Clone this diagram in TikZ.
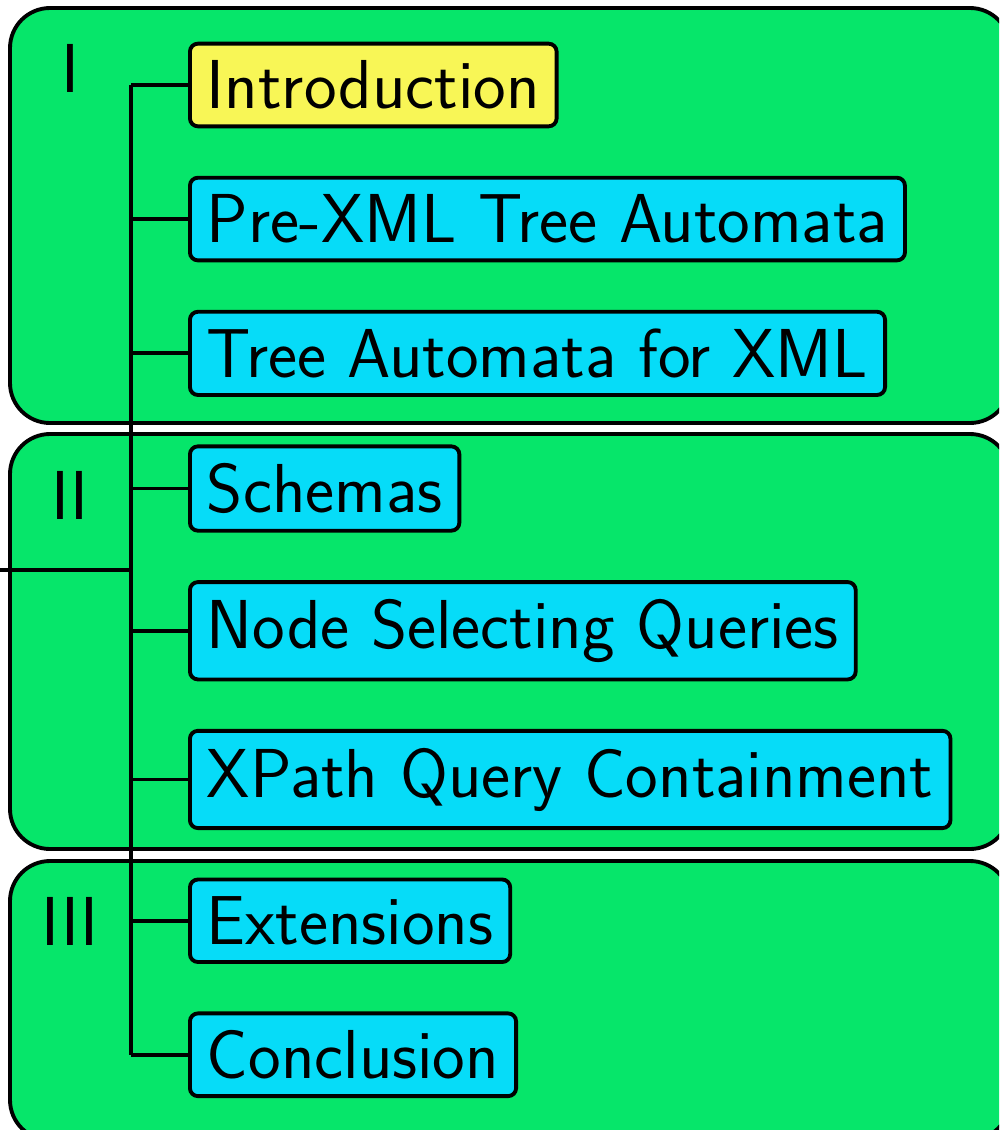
\documentclass[tikz,border=0pt]{standalone}
\usetikzlibrary{positioning}

\definecolor{partgreen}{RGB}{6,230,106}
\definecolor{chaptercyan}{RGB}{6,220,248}
\definecolor{currentyellow}{RGB}{248,246,86}

\tikzset{
  part/.style={draw, line width=1.1pt, fill=partgreen, rounded corners=0.4cm},
  partlabel/.style={font=\fontsize{19.7}{23}\selectfont\sffamily},
  chapter/.style={draw, line width=1.1pt, fill=chaptercyan, rounded corners=0.08cm,
    inner xsep=0.17cm, inner ysep=0.17cm, font=\fontsize{19.7}{23}\selectfont\sffamily},
  current/.style={chapter, fill=currentyellow},
  branch/.style={line width=1.1pt}
}

\begin{document}
\begin{tikzpicture}[x=0.01cm, y=-0.01cm]
\path[use as bounding box, clip] (0,0) rectangle (999,1130);

% the three parts
\draw[part] (10,8) rectangle (1010,423);
\draw[part] (10,434) rectangle (1010,849);
\draw[part] (10,861) rectangle (1010,1140);
\node[partlabel] (partI) at (70,68) {I};
\node[partlabel] (partII) at (70,495) {II};
\node[partlabel] (partIII) at (70,921) {III};

% chapters
\node[current, anchor=west] (intro) at (188,85) {Introduction};
\node[chapter, below=0.475cm of intro.south west, anchor=north west] (prexml) {Pre-XML Tree Automata};
\node[chapter, below=0.475cm of prexml.south west, anchor=north west] (taxml) {Tree Automata for XML};
\node[chapter, below=0.475cm of taxml.south west, anchor=north west] (schemas) {Schemas};
\node[chapter, below=0.475cm of schemas.south west, anchor=north west] (queries) {Node Selecting Queries};
\node[chapter, below=0.475cm of queries.south west, anchor=north west] (xpath) {XPath Query Containment};
\node[chapter, below=0.475cm of xpath.south west, anchor=north west] (ext) {Extensions};
\node[chapter, below=0.475cm of ext.south west, anchor=north west] (concl) {Conclusion};

% tree
\coordinate (root) at (0,570);
\coordinate (fork) at (131,570);
\draw[branch] (root) -- (fork);
\draw[branch] (fork |- intro.west) -- (fork |- concl.west);
\foreach \c in {intro,prexml,taxml,schemas,queries,xpath,ext,concl}
  \draw[branch] (fork |- \c.west) -- (\c.west);
\end{tikzpicture}
\end{document}
